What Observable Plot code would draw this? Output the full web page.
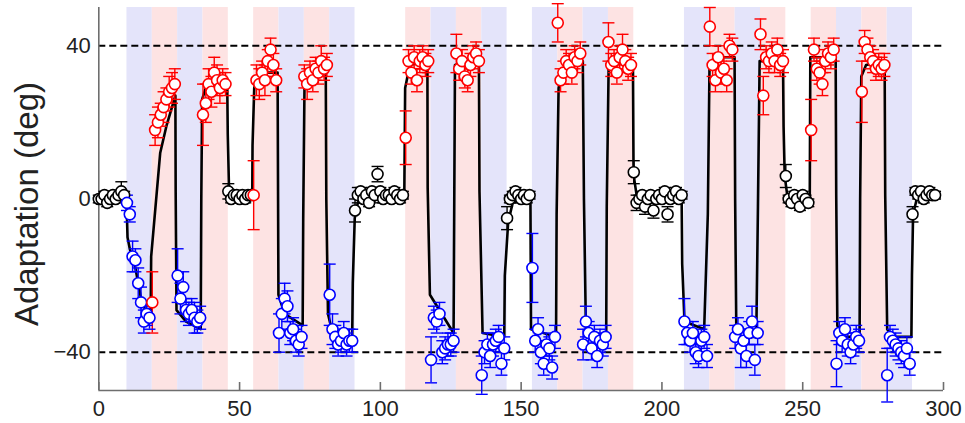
<!DOCTYPE html>
<html>
<head>
<meta charset="utf-8">
<script src="https://cdn.jsdelivr.net/npm/d3@7"></script>
<script src="https://cdn.jsdelivr.net/npm/@observablehq/plot@0.6"></script>
<style>
  html, body { margin: 0; padding: 0; background: #fff; }
  #chart { width: 965px; height: 423px; }
</style>
</head>
<body>
<div id="chart"></div>
<script>
// ---- Data ----
// Trial-by-trial mean adaptation (deg); x = trial index (0..297)
const adaptY = [
  // baseline 0-9
  0, 0, 1, -1, 0, 1, 0, 1, 2, 1,
  // blue 10-18
  -1, -4, -15, -16, -22, -27, -32, -30, -31,
  // red 19-27
  -27, 18, 20, 22, 24, 26, 28, 29, 30,
  // blue 28-36
  -20, -26, -23, -29, -30, -29, -31, -32, -31,
  // red 37-45
  22, 25, 30, 28, 33, 31, 29, 31, 30,
  // washout 46-54
  2, 0, 1, 1, 0, 1, 0, 1, 1,
  // red 55-63
  1, 31, 30, 33, 31, 36, 39, 35, 31,
  // blue 64-72
  -35, -30, -26, -28, -35, -34, -37, -38, -36,
  // red 73-81
  32, 30, 33, 31, 34, 33, 36, 34, 35,
  // blue 82-90
  -25, -34, -36, -38, -37, -35, -38, -37, -37,
  // washout 91-108
  -3, 1, 2, 0, 1, -1, 2, 1, 6.5, 2, 0, 1, 1, 0, 2, 1, 0, 1,
  // red 109-117
  16, 36, 33, 37, 31, 36, 37, 35, 36,
  // blue 118-126
  -42, -31, -32, -30, -40, -39, -38, -38, -37,
  // red 127-135
  38, 34, 36, 32, 31, 35, 37, 38, 36,
  // blue 136-144
  -46, -40, -38, -41, -38, -37, -36, -43, -39,
  // washout 145-153
  -5, 0, 1, 2, 1, 0, 1, 0, 1,
  // blue 154-162
  -18, -37, -34, -40, -43, -38, -39, -44, -36,
  // red 163-171
  46, 31, 33, 36, 35, 33, 37, 36, 38,
  // blue 172-180
  -38, -32, -35, -39, -36, -41, -37, -38, -36,
  // red 181-189
  41, 35, 36, 33, 37, 39, 36, 34, 35,
  // washout 190-207
  7, -1, 0, 1, -2, 0, 1, -3, 0, 1, 0, 2, -4, 0, 1, 2, 0, 1,
  // blue 208-216
  -32, -35, -37, -35, -40, -41, -37, -36, -41,
  // red 217-225
  45, 35, 31, 37, 33, 34, 31, 40, 39,
  // blue 226-234
  -36, -34, -39, -37, -41, -35, -32, -42, -35,
  // red 235-243
  43, 27, 37, 36, 38, 36, 39, 35, 36,
  // washout 244-252
  6, 0, -1, 1, 0, -2, 1, 0, -1,
  // red 253-261
  18, 39, 34, 33, 30, 36, 38, 37, 39,
  // blue 262-270
  -43, -35, -37, -34, -38, -40, -38, -36, -37,
  // red 271-279
  28, 41, 39, 37, 36, 34, 35, 34, 35,
  // blue 280-288
  -46, -36, -37, -38, -39, -40, -41, -39, -43,
  // washout 289-297
  -4, 2, 1, 2, 0, 1, 2, 1, 1
];
// Error-bar half lengths (deg)
const adaptErr = [
  1, 1, 1, 1, 1, 1, 1, 1, 2.5, 1,
  2, 2, 4, 3, 4, 4, 3, 3, 3,
  8, 4, 4, 3, 4, 3, 4, 4, 4,
  7, 4, 4, 3, 3, 3, 4, 3, 3,
  8, 5, 4, 4, 4, 4, 4, 3, 3,
  2, 1, 1, 1, 1, 1, 1, 1, 1,
  9, 4, 4, 3, 4, 3, 3, 3, 3,
  5, 4, 4, 4, 3, 3, 3, 3, 3,
  3, 4, 3, 3, 3, 3, 4, 3, 3,
  8, 4, 3, 3, 3, 3, 3, 3, 3,
  3, 2, 1, 1, 1, 1, 1, 2, 2, 1, 1, 1, 1, 1, 1, 1, 1, 1,
  7, 3, 3, 3, 3, 3, 3, 3, 3,
  6, 3, 3, 3, 3, 3, 3, 3, 3,
  5, 3, 3, 3, 3, 3, 3, 3, 3,
  5, 3, 3, 3, 3, 3, 3, 3, 3,
  3, 1, 1, 1, 1, 1, 1, 1, 1,
  9, 3, 3, 3, 3, 3, 3, 3, 3,
  5, 3, 3, 3, 3, 3, 3, 3, 3,
  4, 4, 3, 3, 3, 3, 3, 3, 3,
  5, 3, 3, 3, 3, 4, 3, 3, 3,
  3, 2, 1, 1, 2, 1, 1, 2, 1, 1, 1, 1, 2, 1, 1, 1, 1, 1,
  6, 3, 3, 3, 3, 3, 3, 3, 3,
  5, 3, 3, 3, 3, 3, 3, 3, 3,
  3, 3, 5, 3, 3, 3, 4, 4, 3,
  4, 5, 3, 3, 3, 3, 3, 3, 3,
  3, 1, 1, 1, 1, 1, 1, 1, 1,
  8, 3, 3, 3, 3, 3, 3, 3, 3,
  6, 3, 3, 3, 3, 3, 3, 3, 3,
  8, 3, 3, 3, 3, 3, 3, 3, 3,
  7, 3, 3, 3, 3, 3, 3, 3, 3,
  2, 1, 1, 1, 1, 1, 1, 1, 1
];

// Perturbation blocks (shaded bands)
const blockLength = 9;
const bandStart = [10, 19, 28, 37, 55, 64, 73, 82, 109, 118, 127, 136,
                   154, 163, 172, 181, 208, 217, 226, 235, 253, 262, 271, 280];
const bandType = ["blue","red","blue","red", "red","blue","red","blue",
                  "red","blue","red","blue", "blue","red","blue","red",
                  "blue","red","blue","red", "red","blue","red","blue"];

// Model fit (black line) vertices
const modelX = [0, 9.8, 10.2, 11, 13, 15, 17, 18.4, 18.6, 21.8, 24, 27.2,
  27.3, 27.6, 31, 36.2, 36.4, 36.7, 38, 41, 45.6, 45.8, 46.3, 54.5,
  54.6, 55.2, 57, 63.5, 63.8, 66, 72.4, 72.6, 73.1, 80.6, 80.8, 81.4, 83, 90,
  90.2, 90.9, 92, 108.5, 108.8, 110.5, 116.7, 116.8, 117.6, 126, 126.5, 135,
  135.2, 136.3, 144, 144.2, 145.4, 147, 153.3, 153.5, 162.4,
  162.6, 163.3, 164.5, 171.9, 172.3, 173, 180.2, 180.4, 181.1, 189.7,
  189.9, 190.2, 191, 207, 207.2, 208, 215, 216.3, 216.9, 218.5, 225.8,
  226, 226.4, 228, 233.5, 234.1, 234.7, 243, 243.2, 243.6, 244.5, 252.5,
  252.7, 261.7, 261.9, 262.3, 264, 270.2, 270.4, 270.8, 272.5, 279.1,
  279.3, 280, 282, 288.6, 288.8, 289.2, 290.5, 297];
const modelY = [0.5, 0.5, -10, -13, -18, -26, -30, -32, -15, 12, 19, 27,
  2, -29, -32, -34, 0, 26, 29, 31, 31, 17, 1, 1,
  14, 29, 33, 33, -25, -30, -33, -5, 33, 34, 0, -30, -35, -36,
  -22, -5, -1, 1, 29, 35, 36, 3, -25, -35, 35, 37,
  2, -35, -36, -20, -6, -1, 0, -34, -36,
  -4, 29, 33, 36, 0, -34, -36, -2, 36, 36,
  9, 5, 1, 0, -17, -32, -34, -4, 35, 37, 37,
  0, -33, -36, -36, -2, 36, 36, 19, 6, 1, 0,
  37, 37, 1, -33, -36, -36, 0, 32, 35, 36,
  1, -34, -36, -36, -20, -4, 0, 1];

const refLevels = [40, -40];
const xTicks = [0, 50, 100, 150, 200, 250, 300];
const yTicks = [-40, 0, 40];
const xDomain = [0, 300];
const yDomain = [-50, 50];
const yLabel = "Adaptation (deg)";

// ---- Build tables ----
const pointColor = {blue: "#0000ff", red: "#ff0000", none: "#000000"};
const bandFill = {blue: "#e4e4fa", red: "#fde3e3"};
function typeOf(x) {
  const i = bandStart.findIndex(s => x >= s && x < s + blockLength);
  return i < 0 ? "none" : bandType[i];
}
const points = adaptY.map((y, i) => ({x: i, y, e: adaptErr[i], c: pointColor[typeOf(i)]}));
const bands = bandStart.map((s, i) => ({x1: s, x2: s + blockLength, fill: bandFill[bandType[i]]}));
const model = modelX.map((x, i) => ({x, y: modelY[i]}));

const capSymbol = {
  draw(context) { context.moveTo(-6, 0); context.lineTo(6, 0); }
};

const chart = Plot.plot({
  width: 965,
  height: 423,
  marginLeft: 98.3,
  marginRight: 22,
  marginTop: 7,
  marginBottom: 33,
  x: {domain: xDomain},
  y: {domain: yDomain},
  color: {type: "identity"},
  style: {fontFamily: "'Liberation Sans', Arial, sans-serif", background: "#fff", color: "#222", overflow: "visible"},
  marks: [
    Plot.rect(bands, {x1: "x1", x2: "x2", fill: "fill"}),
    Plot.ruleY(refLevels, {stroke: "#000", strokeWidth: 2, strokeDasharray: "7,4"}),
    Plot.ruleX([xDomain[0]], {stroke: "#6e6e6e", strokeWidth: 1.6}),
    Plot.ruleY([yDomain[0]], {stroke: "#6e6e6e", strokeWidth: 1.6}),
    Plot.tickX(xTicks, {stroke: "#6e6e6e", strokeWidth: 1.6, insetTop: 375}),
    Plot.line(model, {x: "x", y: "y", stroke: "#000", strokeWidth: 2.6}),
    Plot.ruleX(points, {x: "x", y1: d => d.y - d.e, y2: d => d.y + d.e, stroke: "c", strokeWidth: 1.4}),
    Plot.dot(points, {x: "x", y: d => d.y + d.e, symbol: capSymbol, fill: "none", stroke: "c", strokeWidth: 1.4}),
    Plot.dot(points, {x: "x", y: d => d.y - d.e, symbol: capSymbol, fill: "none", stroke: "c", strokeWidth: 1.4}),
    Plot.dot(points, {x: "x", y: "y", r: 5.5, fill: "#fff", stroke: "c", strokeWidth: 1.6}),
    Plot.axisX({ticks: xTicks, tickSize: 0, tickPadding: 10, fontSize: 22, label: null}),
    Plot.axisY({ticks: yTicks, tickSize: 0, tickPadding: 8, fontSize: 22, label: null}),
    Plot.text([yLabel], {frameAnchor: "left", textAnchor: "middle", rotate: -90, dx: -71, dy: 5, fontSize: 33, fill: "#222"})
  ]
});
document.getElementById("chart").appendChild(chart);
</script>
</body>
</html>
